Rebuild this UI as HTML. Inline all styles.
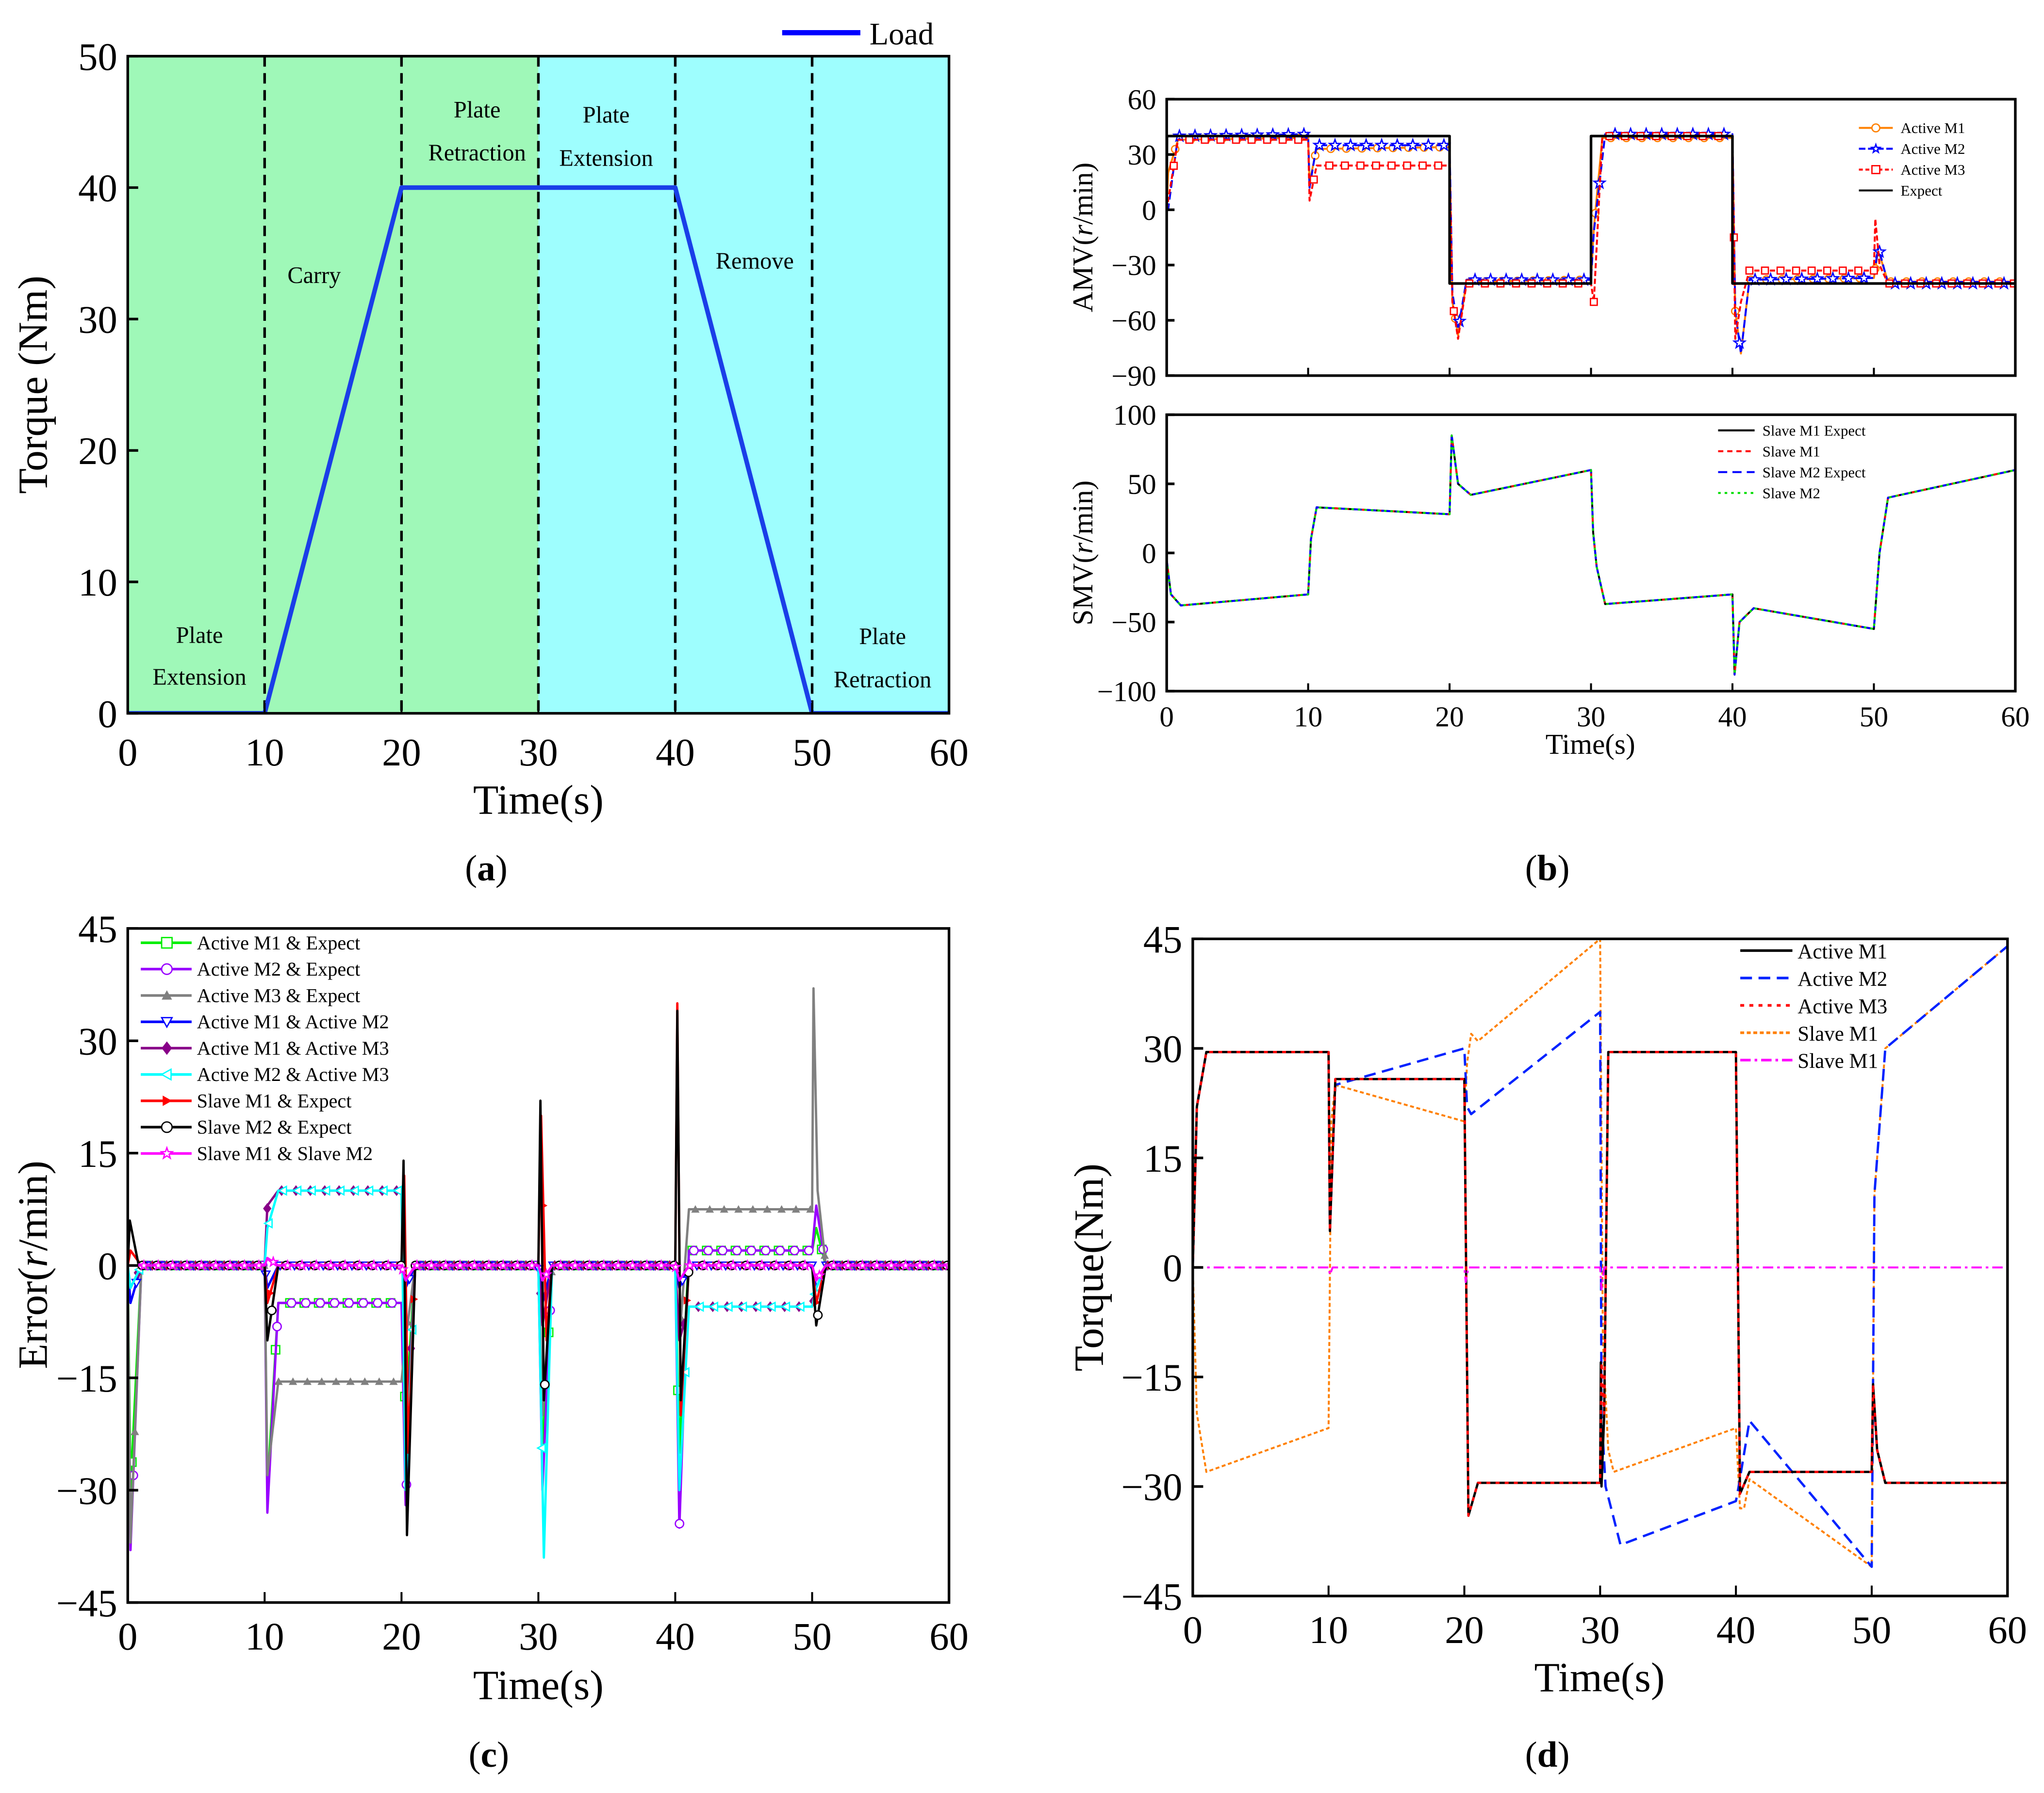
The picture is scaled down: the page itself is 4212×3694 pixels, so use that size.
<!DOCTYPE html>
<html><head><meta charset="utf-8">
<style>
html,body{margin:0;padding:0;background:#fff;}
svg{display:block;font-family:"Liberation Serif",serif;}
</style></head>
<body>
<svg id="fig" xmlns="http://www.w3.org/2000/svg" width="4212" height="3694" viewBox="0 0 1568 1375">
<rect x="0" y="0" width="1568" height="1375" fill="#fff"/>
</svg>
<script>
// ---------- DATA ----------
// Panel (a): Load torque
const loadT = [0,10,20,40,50,60];
const loadV = [0,0,40,40,0,0];
const phaseLines = [10,20,30,40,50];
const xTicks = [0,10,20,30,40,50,60];
const aYTicks = [0,10,20,30,40,50];
// Panel (b) top: AMV
const bTopYTicks = [60,30,0,-30,-60,-90];
const expT = [0,0.02,20,20,30,30,40,40,60];
const expV = [0,40,40,-40,-40,40,40,-40,-40];
const am1T = [0,0.1,0.8,10,10.1,10.6,20,20.2,20.6,21.2,30,30.2,30.8,40,40.2,40.6,41.2,50,50.3,51,60];
const am1V = [0,20,38,39,15,33,34,-50,-68,-39,-38,-10,39,39,-55,-78,-38,-37,-22,-39,-39];
const am2T = [0,0.1,0.8,10,10.1,10.6,20,20.2,20.6,21.2,30,30.2,31,40,40.2,40.6,41.2,50,50.3,51,60];
const am2V = [0,0,40,41,12,35,35,-45,-65,-38,-38,-12,41,41,-55,-78,-38,-37,-20,-40,-40];
const am3T = [0,0.1,0.8,10,10.1,10.6,20,20.2,20.6,21.2,30,30.2,30.8,40,40.2,40.6,41.2,50,50.1,50.4,51,60];
const am3V = [0,5,38,38,5,24,24,-50,-70,-40,-40,-50,40,40,-70,-50,-33,-33,-5,-30,-40,-40];
// Panel (b) bottom: SMV
const smvT = [0,0.3,1,10,10.2,10.6,20,20.15,20.6,21.5,30,30.15,30.4,31,40,40.15,40.5,41.5,50,50.4,51,60];
const smvV = [-5,-30,-38,-30,10,33,28,85,50,42,60,15,-10,-37,-30,-88,-50,-40,-55,0,40,60];
// Panel (c): errors
const cYTicks = [45,30,15,0,-15,-30,-45];
const e1T = [0,0.2,1,10,10.2,11,20,20.3,21,30,30.3,31,40,40.3,41,50,50.3,51,60];
const e1V = [0,-30,0,0,-30,-5,-5,-20,0,0,-25,0,0,-25,2,2,5,0,0];
const e2T = [0,0.2,1,10,10.2,11,20,20.3,21,30,30.3,31,40,40.3,41,50,50.3,51,60];
const e2V = [0,-38,0,0,-33,-5,-5,-32,0,0,-30,0,0,-35,2,2,8,0,0];
const e3T = [0,0.2,1,10,10.2,11,20,20.3,21,30,30.3,31,40,40.3,41,50,50.1,50.4,51,60];
const e3V = [0,-37,0,0,-28,-15.5,-15.5,-10,0,0,-20,0,0,-10,7.5,7.5,37,10,0,0];
const e4T = [0,0.2,1,10,10.2,11,20,20.3,21,30,30.3,31,40,40.3,41,50,50.3,51,60];
const e4V = [0,-5,0,0,-3,0,0,-3,0,0,-5,0,0,-3,0,0,-3,0,0];
const e5T = [0,0.2,1,10,10.2,11,20,20.3,21,30,30.3,31,40,40.3,41,50,50.3,51,60];
const e5V = [0,-3,0,0,8,10,10,-25,0,0,-8,0,0,-10,-5.5,-5.5,-3,0,0];
const e6T = [0,0.2,1,10,10.2,11,20,20.3,21,30,30.4,31,40,40.3,41,50,50.3,51,60];
const e6V = [0,-3,0,0,5,10,10,-30,0,0,-39,0,0,-30,-5.5,-5.5,-3,0,0];
const e7T = [0,0.2,1,10,10.2,11,20,20.2,20.5,21,30,30.2,30.6,31,40,40.15,40.4,41,50,50.3,51,60];
const e7V = [0,2,0,0,-5,0,0,12,-25,0,0,20,-10,0,0,35,-20,0,0,-5,0,0];
const e8T = [0,0.15,0.8,10,10.2,11,20,20.15,20.4,21,30,30.15,30.4,31,40,40.15,40.4,41,50,50.3,51,60];
const e8V = [0,6,0,0,-10,0,0,14,-36,0,0,22,-18,0,0,34,-18,0,0,-8,0,0];
const e9T = [0,10,10.2,11,20,20.3,21,30,30.3,31,40,40.3,41,50,50.3,51,60];
const e9V = [0,0,1,0,0,-2,0,0,-2,0,0,-2,0,0,-2,0,0];
// Panel (d): torques
const dYTicks = [45,30,15,0,-15,-30,-45];
const dm1T = [0,0.3,1,10,10.1,10.5,20,20.3,21,30,30.05,30.1,30.3,30.6,40,40.3,41,50,50.1,50.4,51,60];
const dm1V = [0,22,29.5,29.5,5,25.8,25.8,-34,-29.5,-29.5,-13,-30,-20,29.5,29.5,-31,-28,-28,-16,-25,-29.5,-29.5];
const dm2T = [0,0.3,1,10,10.1,10.5,20,20.2,20.5,30,30.1,30.4,31.5,40,40.2,41,50,50.2,51,60];
const dm2V = [0,22,29.5,29.5,5,25,30,22,21,35,-20,-30,-38,-32,-30,-21,-41,10,30,44];
const dm3T = [0,0.3,1,10,10.1,10.5,20,20.3,21,30,30.1,30.3,30.6,40,40.3,41,50,50.1,50.4,51,60];
const dm3V = [0,22,29.5,29.5,5,25.8,25.8,-34,-29.5,-29.5,-13,-20,29.5,29.5,-31,-28,-28,-16,-25,-29.5,-29.5];
const ds1T = [0,0.3,1,10,10.2,10.5,20,20.2,20.5,21,30,30.2,30.6,31,40,40.3,40.6,41,50,50.2,51,60];
const ds1V = [0,-20,-28,-22,20,25,20,28,32,31,45,-10,-25,-28,-22,-33,-33,-29,-41,10,30,44];
const ds2T = [0,10,10.1,10.3,20,20.1,20.3,30,30.1,30.3,40,60];
const ds2V = [0,0,-1,0,0,-2,0,0,-3,0,0,0];

// ---------- helpers ----------
const NS = "http://www.w3.org/2000/svg";
const svg = document.getElementById('fig');
function mk(tag, attrs, parent) {
  const e = document.createElementNS(NS, tag);
  for (const k in attrs) e.setAttribute(k, attrs[k]);
  (parent || svg).appendChild(e);
  return e;
}
function txt(s, x, y, size, anchor, parent, extra) {
  const t = mk('text', Object.assign({x:x, y:y, 'font-size':size, 'text-anchor':anchor||'middle', fill:'#000'}, extra||{}), parent);
  t.textContent = s;
  return t;
}
function richTxt(parts, x, y, size, anchor, parent, extra) {
  const t = mk('text', Object.assign({x:x, y:y, 'font-size':size, 'text-anchor':anchor||'middle', fill:'#000'}, extra||{}), parent);
  parts.forEach(p => { const s = mk('tspan', p[1] || {}, t); s.textContent = p[0]; });
  return t;
}
function makeAxes(p) {
  p.sx = t => p.x0 + (t - p.xmin) / (p.xmax - p.xmin) * (p.x1 - p.x0);
  p.sy = v => p.y1 - (v - p.ymin) / (p.ymax - p.ymin) * (p.y1 - p.y0);
  const cp = mk('clipPath', {id: p.id + '-clip'});
  mk('rect', {x:p.x0, y:p.y0, width:p.x1-p.x0, height:p.y1-p.y0}, cp);
  p.g = mk('g', {'clip-path': 'url(#' + p.id + '-clip)'});
  
  
  return p;
}
function drawFrame(p, yTicks, showX, tickFont, tickLen, xOff) {
  const fr = mk('rect', {x:p.x0, y:p.y0, width:p.x1-p.x0, height:p.y1-p.y0, fill:'none', stroke:'#000', 'stroke-width':2});
  
  
  const ya = mk('g', {});
  
  
  yTicks.forEach(v => {
    const y = p.sy(v);
    mk('line', {x1:p.x0, x2:p.x0+tickLen, y1:y, y2:y, stroke:'#000', 'stroke-width':2}, ya);
    const lab = (v < 0 ? '\u2212' + Math.abs(v) : String(v));
    const t = txt(lab, p.x0 - 8, y + tickFont*0.35, tickFont, 'end', ya);
    
    
  });
  const xa = mk('g', {});
  
  
  xTicks.forEach(v => {
    const x = p.sx(v);
    mk('line', {x1:x, x2:x, y1:p.y1, y2:p.y1-tickLen, stroke:'#000', 'stroke-width':1.5}, xa);
    if (showX) {
      const t = txt(String(v), x, p.y1 + xOff, tickFont, 'middle', xa);
      
      
    }
  });
}
function series(p, T, V, style, name) {
  const pts = T.map((t,i) => p.sx(t).toFixed(2) + ',' + p.sy(V[i]).toFixed(2)).join(' ');
  const e = mk('polyline', Object.assign({points:pts, fill:'none', 'stroke-linejoin':'round'}, style), p.g);
  
  
  return e;
}
function interp(T, V, t) {
  for (let i = 0; i < T.length - 1; i++) if (t >= T[i] && t <= T[i+1]) {
    const f = T[i+1] === T[i] ? 0 : (t - T[i]) / (T[i+1] - T[i]);
    return V[i] + f * (V[i+1] - V[i]);
  }
  return V[V.length-1];
}
function markerShape(kind, x, y, s, color, parent) {
  let e;
  if (kind === 'square') e = mk('rect', {x:x-s, y:y-s, width:2*s, height:2*s, fill:'#fff', stroke:color, 'stroke-width':1}, parent);
  else if (kind === 'circle') e = mk('circle', {cx:x, cy:y, r:s, fill:'#fff', stroke:color, 'stroke-width':1}, parent);
  else if (kind === 'tri') e = mk('polygon', {points:`${x},${y-s} ${x-s},${y+s*0.8} ${x+s},${y+s*0.8}`, fill:color}, parent);
  else if (kind === 'tridown') e = mk('polygon', {points:`${x},${y+s} ${x-s},${y-s*0.8} ${x+s},${y-s*0.8}`, fill:'#fff', stroke:color, 'stroke-width':1}, parent);
  else if (kind === 'diamond') e = mk('polygon', {points:`${x},${y-s*1.3} ${x-s},${y} ${x},${y+s*1.3} ${x+s},${y}`, fill:color}, parent);
  else if (kind === 'trileft') e = mk('polygon', {points:`${x-s},${y} ${x+s*0.8},${y-s} ${x+s*0.8},${y+s}`, fill:'#fff', stroke:color, 'stroke-width':1}, parent);
  else if (kind === 'triright') e = mk('polygon', {points:`${x+s},${y} ${x-s*0.8},${y-s} ${x-s*0.8},${y+s}`, fill:color}, parent);
  else if (kind === 'star') {
    let pts = [];
    for (let k = 0; k < 10; k++) { const r = k%2 ? s*0.45 : s*1.1; const a = -Math.PI/2 + k*Math.PI/5; pts.push((x + r*Math.cos(a)).toFixed(2) + ',' + (y + r*Math.sin(a)).toFixed(2)); }
    e = mk('polygon', {points:pts.join(' '), fill:'#fff', stroke:color, 'stroke-width':1}, parent);
  }
  return e;
}
function markers(p, T, V, kind, color, step, s, start, name) {
  const g = mk('g', {}, p.g);
  
  
  for (let t = start; t <= p.xmax; t += step) markerShape(kind, p.sx(t), p.sy(interp(T, V, t)), s, color, g);
}
function caption(letter, x, y, name) {
  const c = richTxt([['('],[letter,{'font-weight':'bold'}],[')']], x, y, 28, 'middle');
  
  
}

// ---------- Panel (a) ----------
const pa = makeAxes({id:'panel-a', x0:98, x1:728, y0:43, y1:547, xmin:0, xmax:60, ymin:0, ymax:50});
{
  const g1 = mk('rect', {x:pa.sx(0), y:pa.y0, width:pa.sx(30)-pa.sx(0), height:pa.y1-pa.y0, fill:'#9ff8b8'}, pa.g);
  
  
  const g2 = mk('rect', {x:pa.sx(30), y:pa.y0, width:pa.sx(60)-pa.sx(30), height:pa.y1-pa.y0, fill:'#9efefe'}, pa.g);
  
  
  phaseLines.forEach(t => {
    const l = mk('line', {x1:pa.sx(t), x2:pa.sx(t), y1:pa.y0, y2:pa.y1, stroke:'#000', 'stroke-width':2, 'stroke-dasharray':'8,5'}, pa.g);
    
    
  });
  series(pa, loadT, loadV, {stroke:'#1a3ee8', 'stroke-width':3.5}, 'load-line');
  const labels = [['Plate',153,493],['Extension',153,525],['Carry',241,217],['Plate',366,90],['Retraction',366,123],['Plate',465,94],['Extension',465,127],['Remove',579,206],['Plate',677,494],['Retraction',677,527]];
  labels.forEach(l => { const t = txt(l[0], l[1], l[2], 18, 'middle');   });
  drawFrame(pa, aYTicks, true, 30, 8, 40);
  const lg = mk('g', {});
  
  
  mk('line', {x1:600, x2:660, y1:25, y2:25, stroke:'#0000ff', 'stroke-width':4}, lg);
  txt('Load', 667, 34, 24, 'start', lg);
  const yt = txt('Torque (Nm)', 0, 0, 32, 'middle', null, {transform:'translate(36,295) rotate(-90)'});
   
  const xt = txt('Time(s)', 413, 624, 32);  
  caption('a', 373, 675, 'caption-a');
}

// ---------- Panel (b) ----------
const pbt = makeAxes({id:'panel-b-top', x0:895, x1:1546, y0:76, y1:288, xmin:0, xmax:60, ymin:-90, ymax:60});
{
  series(pbt, am1T, am1V, {stroke:'#ff8000', 'stroke-width':1.5}, 'active-m1-line');
  markers(pbt, am1T, am1V, 'circle', '#ff8000', 1.1, 2.8, 0.6, 'active-m1-markers');
  series(pbt, am2T, am2V, {stroke:'#0000ff', 'stroke-width':1.5, 'stroke-dasharray':'6,3'}, 'active-m2-line');
  markers(pbt, am2T, am2V, 'star', '#0000ff', 1.1, 4, 0.9, 'active-m2-markers');
  series(pbt, am3T, am3V, {stroke:'#ff0000', 'stroke-width':1.5, 'stroke-dasharray':'4,2'}, 'active-m3-line');
  markers(pbt, am3T, am3V, 'square', '#ff0000', 1.1, 2.6, 0.5, 'active-m3-markers');
  series(pbt, expT, expV, {stroke:'#000', 'stroke-width':2}, 'expect-line');
  drawFrame(pbt, bTopYTicks, false, 22, 6, 24);
  const lg = mk('g', {});
  
  
  const items = [['Active M1','#ff8000','circle',''],['Active M2','#0000ff','star','5,2'],['Active M3','#ff0000','square','3,2'],['Expect','#000','','']];
  items.forEach((it,i) => {
    const y = 98 + i*16;
    mk('line', {x1:1426, x2:1452, y1:y, y2:y, stroke:it[1], 'stroke-width':1.5, 'stroke-dasharray':it[3]}, lg);
    if (it[2]) markerShape(it[2], 1439, y, 3, it[1], lg);
    txt(it[0], 1458, y+4, 11.5, 'start', lg);
  });
  const yt = richTxt([['AMV('],['r',{'font-style':'italic'}],['/min)']], 0, 0, 22, 'middle', null, {transform:'translate(838,182) rotate(-90)'});
   
}
const pbb = makeAxes({id:'panel-b-bottom', x0:895, x1:1546, y0:318, y1:530, xmin:0, xmax:60, ymin:-100, ymax:100});
{
  series(pbb, smvT, smvV, {stroke:'#000', 'stroke-width':1.5}, 'slave-m1-expect-line');
  series(pbb, smvT, smvV, {stroke:'#ff0000', 'stroke-width':1.5, 'stroke-dasharray':'4,3'}, 'slave-m1-line');
  series(pbb, smvT, smvV, {stroke:'#0000ff', 'stroke-width':1.5, 'stroke-dasharray':'7,4'}, 'slave-m2-expect-line');
  series(pbb, smvT, smvV, {stroke:'#00dd00', 'stroke-width':1.5, 'stroke-dasharray':'2,3'}, 'slave-m2-line');
  drawFrame(pbb, [100,50,0,-50,-100], true, 22, 6, 27);
  const lg = mk('g', {});
  
  
  const items = [['Slave M1 Expect','#000',''],['Slave M1','#ff0000','4,3'],['Slave M2 Expect','#0000ff','7,4'],['Slave M2','#00dd00','2,3']];
  items.forEach((it,i) => {
    const y = 330 + i*16;
    mk('line', {x1:1318, x2:1346, y1:y, y2:y, stroke:it[1], 'stroke-width':1.5, 'stroke-dasharray':it[2]}, lg);
    txt(it[0], 1352, y+4, 11.5, 'start', lg);
  });
  const yt = richTxt([['SMV('],['r',{'font-style':'italic'}],['/min)']], 0, 0, 22, 'middle', null, {transform:'translate(838,424) rotate(-90)'});
   
  const xt = txt('Time(s)', 1220, 578, 22);  
  caption('b', 1187, 675, 'caption-b');
}

// ---------- Panel (c) ----------
const pc = makeAxes({id:'panel-c', x0:98, x1:728, y0:712, y1:1229, xmin:0, xmax:60, ymin:-45, ymax:45});
{
  const cs = [
    [e1T,e1V,'#00ee00','square','Active M1  & Expect'],
    [e2T,e2V,'#9900ff','circle','Active M2  & Expect'],
    [e3T,e3V,'#808080','tri','Active M3  & Expect'],
    [e4T,e4V,'#0000ff','tridown','Active M1  & Active M2'],
    [e5T,e5V,'#880088','diamond','Active M1  & Active M3'],
    [e6T,e6V,'#00ffff','trileft','Active M2  & Active M3'],
    [e7T,e7V,'#ff0000','triright','Slave M1  & Expect'],
    [e8T,e8V,'#000000','circle','Slave M2  & Expect'],
    [e9T,e9V,'#ff00ff','star','Slave M1  & Slave M2']
  ];
  cs.forEach((c,i) => {
    series(pc, c[0], c[1], {stroke:c[2], 'stroke-width':1.8}, 'error-line-' + (i+1));
    markers(pc, c[0], c[1], c[3], c[2], 1.05, 3.2, 0.3 + i*0.11, 'error-markers-' + (i+1));
  });
  drawFrame(pc, cYTicks, true, 30, 8, 36);
  const lg = mk('g', {});
  
  
  cs.forEach((c,i) => {
    const y = 723 + i*20.2;
    mk('line', {x1:108, x2:147, y1:y, y2:y, stroke:c[2], 'stroke-width':2}, lg);
    markerShape(c[3], 128, y, 4, c[2], lg);
    txt(c[4], 151, y+5, 15, 'start', lg, {'xml:space':'preserve'});
  });
  const yt = richTxt([['Error('],['r',{'font-style':'italic'}],['/min)']], 0, 0, 32, 'middle', null, {transform:'translate(36,970) rotate(-90)'});
   
  const xt = txt('Time(s)', 413, 1303, 32);  
  caption('c', 375, 1355, 'caption-c');
}

// ---------- Panel (d) ----------
const pd = makeAxes({id:'panel-d', x0:915, x1:1540, y0:720, y1:1224, xmin:0, xmax:60, ymin:-45, ymax:45});
{
  series(pd, ds1T, ds1V, {stroke:'#ff8000', 'stroke-width':1.5, 'stroke-dasharray':'3,2'}, 'slave-m1-torque-line');
  series(pd, dm2T, dm2V, {stroke:'#0022ff', 'stroke-width':1.8, 'stroke-dasharray':'9,5'}, 'active-m2-torque-line');
  series(pd, dm1T, dm1V, {stroke:'#000', 'stroke-width':1.8}, 'active-m1-torque-line');
  series(pd, dm3T, dm3V, {stroke:'#ff0000', 'stroke-width':1.8, 'stroke-dasharray':'3,4'}, 'active-m3-torque-line');
  series(pd, ds2T, ds2V, {stroke:'#ff00ff', 'stroke-width':1.5, 'stroke-dasharray':'8,3,2,3'}, 'slave-m2-torque-line');
  drawFrame(pd, dYTicks, true, 30, 8, 36);
  const lg = mk('g', {});
  
  
  const items = [['Active M1','#000',''],['Active M2','#0022ff','9,5'],['Active M3','#ff0000','3,4'],['Slave M1','#ff8000','3,2'],['Slave M1','#ff00ff','8,3,2,3']];
  items.forEach((it,i) => {
    const y = 729 + i*21;
    mk('line', {x1:1335, x2:1375, y1:y, y2:y, stroke:it[1], 'stroke-width':2, 'stroke-dasharray':it[2]}, lg);
    txt(it[0], 1379, y+6, 16, 'start', lg);
  });
  const yt = txt('Torque(Nm)', 0, 0, 32, 'middle', null, {transform:'translate(846,972) rotate(-90)'});
   
  const xt = txt('Time(s)', 1227, 1297, 32);  
  caption('d', 1187, 1355, 'caption-d');
}
</script>
</body></html>
